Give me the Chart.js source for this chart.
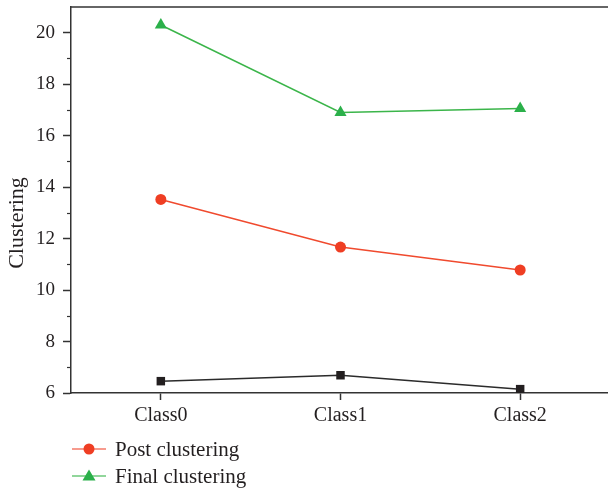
<!DOCTYPE html>
<html>
<head>
<meta charset="utf-8">
<script src="https://cdn.jsdelivr.net/npm/chart.js@4/dist/chart.umd.min.js"></script>
<style>
  html, body { margin: 0; padding: 0; background: #fff; overflow: hidden; }
  #wrap { width: 620px; height: 492px; }
</style>
</head>
<body>
<div id="wrap"><canvas id="c" width="620" height="492"></canvas></div>
<script>
const categories = ["Class0", "Class1", "Class2"];
const initialValues = [6.46, 6.69, 6.15];
const postValues = [13.52, 11.67, 10.78];
const finalValues = [20.3, 16.9, 17.06];
const yTickLabels = [6, 8, 10, 12, 14, 16, 18, 20];
const seriesNames = ["Initial clustering", "Post clustering", "Final clustering"];
const legendSeries = [1, 2];

const FONT = "'Liberation Serif', 'DejaVu Serif', serif";
const TEXT = "#231f20";
const AXIS = "#333333";

const framePlugin = {
  id: "frame",
  afterDraw(chart) {
    const ctx = chart.ctx;
    const a = chart.chartArea;
    const y = chart.scales.y;
    ctx.save();
    // top border
    ctx.strokeStyle = AXIS;
    ctx.lineWidth = 1.5;
    ctx.beginPath();
    ctx.moveTo(a.left, a.top);
    ctx.lineTo(a.right, a.top);
    ctx.stroke();
    // minor ticks
    ctx.lineWidth = 1.2;
    for (let v = 7; v < 21; v += 2) {
      const py = Math.round(y.getPixelForValue(v)) + 0.5;
      ctx.beginPath();
      ctx.moveTo(a.left - 4, py);
      ctx.lineTo(a.left, py);
      ctx.stroke();
    }
    // y title
    ctx.fillStyle = TEXT;
    ctx.font = "22px " + FONT;
    ctx.translate(17, 223);
    ctx.rotate(-Math.PI / 2);
    ctx.textAlign = "center";
    ctx.textBaseline = "middle";
    ctx.fillText("Clustering", 0, 0);
    ctx.restore();

    // legend
    ctx.save();
    const rows = [449, 476];
    legendSeries.forEach((di, i) => {
      const ds = chart.data.datasets[di];
      const ly = rows[i];
      ctx.strokeStyle = ds.legendLine;
      ctx.lineWidth = 1.5;
      ctx.beginPath();
      ctx.moveTo(72, ly);
      ctx.lineTo(106, ly);
      ctx.stroke();
      ctx.fillStyle = ds.pointBackgroundColor;
      if (ds.pointStyle === "circle") {
        ctx.beginPath();
        ctx.arc(89, ly, 5.5, 0, Math.PI * 2);
        ctx.fill();
      } else if (ds.pointStyle === "triangle") {
        ctx.beginPath();
        ctx.moveTo(89, ly - 6.5);
        ctx.lineTo(95.5, ly + 4.5);
        ctx.lineTo(82.5, ly + 4.5);
        ctx.closePath();
        ctx.fill();
      }
      ctx.fillStyle = TEXT;
      ctx.font = "21px " + FONT;
      ctx.textAlign = "left";
      ctx.textBaseline = "middle";
      ctx.fillText(seriesNames[di], 115, ly + 1);
    });
    ctx.restore();
  }
};

new Chart(document.getElementById("c"), {
  type: "line",
  data: {
    labels: categories,
    datasets: [
      {
        label: seriesNames[0],
        data: initialValues,
        borderColor: "#2b2b2b",
        borderWidth: 1.5,
        pointStyle: "rect",
        pointRadius: 6,
        pointBackgroundColor: "#231f20",
        pointBorderColor: "#231f20",
        pointBorderWidth: 0,
        tension: 0,
        legendLine: "#555555"
      },
      {
        label: seriesNames[1],
        data: postValues,
        borderColor: "#f04a2e",
        borderWidth: 1.5,
        pointStyle: "circle",
        pointRadius: 5.5,
        pointBackgroundColor: "#ef3e23",
        pointBorderColor: "#ef3e23",
        pointBorderWidth: 0,
        tension: 0,
        legendLine: "#f47a68"
      },
      {
        label: seriesNames[2],
        data: finalValues,
        borderColor: "#3bb54a",
        borderWidth: 1.5,
        pointStyle: "triangle",
        pointRadius: 7,
        pointBackgroundColor: "#2bb04a",
        pointBorderColor: "#2bb04a",
        pointBorderWidth: 0,
        tension: 0,
        legendLine: "#6cc97a"
      }
    ]
  },
  options: {
    responsive: false,
    animation: false,
    layout: { padding: { top: 3, right: 10, left: 0, bottom: 0 } },
    plugins: {
      legend: { display: false },
      tooltip: { enabled: false },
      title: { display: false }
    },
    scales: {
      x: {
        offset: true,
        grid: {
          drawOnChartArea: false,
          offset: false,
          tickLength: 7,
          tickColor: AXIS,
          tickWidth: 1.5,
          display: true
        },
        border: { color: AXIS, width: 1.5 },
        ticks: {
          color: TEXT,
          font: { family: FONT, size: 20 },
          padding: 4,
          maxRotation: 0
        },
        afterFit(scale) {
          scale.height = 99;
          scale.paddingLeft = 0;
          scale.paddingRight = 0;
        }
      },
      y: {
        min: 6,
        max: 21,
        grid: {
          drawOnChartArea: false,
          tickLength: 8,
          tickColor: AXIS,
          tickWidth: 1.5
        },
        border: { color: AXIS, width: 1.5 },
        afterBuildTicks(scale) {
          scale.ticks = yTickLabels.map(v => ({ value: v }));
        },
        ticks: {
          color: TEXT,
          font: { family: FONT, size: 19 },
          padding: 8
        },
        afterFit(scale) {
          scale.width = 71;
          scale.paddingTop = 0;
          scale.paddingBottom = 0;
        }
      }
    }
  },
  plugins: [framePlugin]
});
</script>
</body>
</html>
